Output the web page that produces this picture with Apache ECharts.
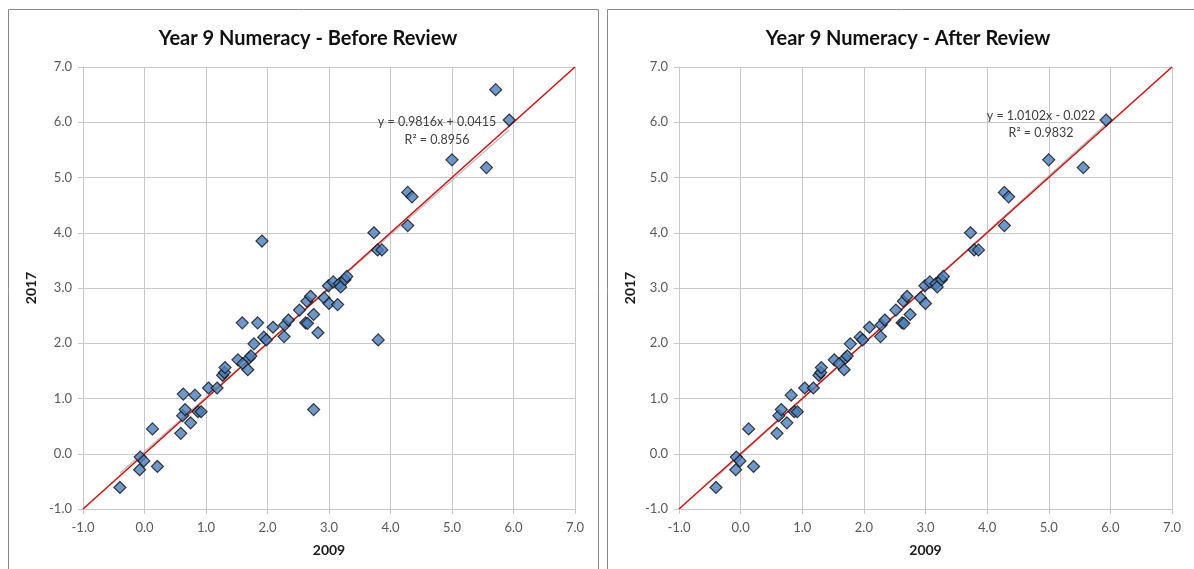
<!DOCTYPE html>
<html>
<head>
<meta charset="utf-8">
<script src="https://cdn.jsdelivr.net/npm/echarts@6/dist/echarts.min.js"></script>
<style>
html,body{margin:0;padding:0;background:#fff;}
#chart{width:1194px;height:569px;}
</style>
</head>
<body>
<div id="chart"></div>
<script>
// ---- data ----
const tickLabels = ['-1.0','0.0','1.0','2.0','3.0','4.0','5.0','6.0','7.0'];
const titles = ['Year 9 Numeracy - Before Review', 'Year 9 Numeracy - After Review'];
const xName = '2009';
const yName = '2017';

const beforeX = [-0.40,-0.08,-0.07,-0.01,0.13,0.21,0.59,0.62,0.63,0.66,0.75,0.82,0.87,0.92,1.04,1.18,1.27,1.30,1.31,1.52,1.59,1.60,1.68,1.70,1.73,1.78,1.84,1.91,1.94,1.98,2.09,2.27,2.28,2.34,2.52,2.62,2.65,2.64,2.70,2.75,2.75,2.82,2.92,2.99,3.00,3.07,3.14,3.17,3.19,3.26,3.29,3.73,3.79,3.86,3.80,4.28,4.35,4.28,5.00,5.56,5.71,5.93];
const beforeY = [-0.61,-0.29,-0.06,-0.13,0.45,-0.23,0.37,0.69,1.08,0.80,0.56,1.06,0.76,0.76,1.19,1.19,1.42,1.47,1.56,1.70,2.37,1.63,1.52,1.73,1.77,1.99,2.37,3.85,2.11,2.06,2.29,2.12,2.33,2.42,2.60,2.37,2.36,2.76,2.85,2.52,0.80,2.19,2.82,3.04,2.72,3.11,2.70,3.08,3.02,3.15,3.21,4.00,3.69,3.69,2.06,4.73,4.65,4.13,5.32,5.18,6.59,6.04];

const afterX = [-0.40,-0.08,-0.07,-0.01,0.13,0.21,0.59,0.62,0.66,0.75,0.82,0.87,0.92,1.04,1.18,1.27,1.30,1.31,1.52,1.60,1.68,1.70,1.73,1.78,1.94,1.98,2.09,2.27,2.28,2.34,2.52,2.62,2.65,2.64,2.70,2.75,2.92,2.99,3.00,3.07,3.17,3.19,3.26,3.29,3.73,3.79,3.86,4.28,4.35,4.28,5.00,5.56,5.93];
const afterY = [-0.61,-0.29,-0.06,-0.13,0.45,-0.23,0.37,0.69,0.80,0.56,1.06,0.76,0.76,1.19,1.19,1.42,1.47,1.56,1.70,1.63,1.52,1.73,1.77,1.99,2.11,2.06,2.29,2.12,2.33,2.42,2.60,2.37,2.36,2.76,2.85,2.52,2.82,3.04,2.72,3.11,3.08,3.02,3.15,3.21,4.00,3.69,3.69,4.73,4.65,4.13,5.32,5.18,6.04];

// trendline equations as printed on the chart
const beforeTrend = {slope: 0.9816, intercept: 0.0415, eq: 'y = 0.9816x + 0.0415', r2: 'R\u00B2 = 0.8956'};
const afterTrend  = {slope: 1.0102, intercept: -0.022, eq: 'y = 1.0102x - 0.022',  r2: 'R\u00B2 = 0.9832'};
const identityLine = [[-1, -1], [7, 7]];

// ---- build ----
function pairs(xs, ys){ return xs.map((x,i)=>[x, ys[i]]); }
function trendData(xs, t){
  const lo = Math.min(...xs), hi = Math.max(...xs);
  return [[lo, t.slope*lo + t.intercept], [hi, t.slope*hi + t.intercept]];
}

const FONT = 'Lato, "Open Sans", sans-serif';
const gridColor = '#c8c8c8';
const labelColor = '#595959';

function xAxis(gi){
  return {
    type:'value', gridIndex:gi, min:-1, max:7, interval:1,
    name:xName, nameLocation:'middle', nameGap:34,
    nameTextStyle:{fontFamily:FONT, fontWeight:'bold', fontSize:14, color:'#1a1a1a'},
    axisLine:{show:true, onZero:false, lineStyle:{color:gridColor, width:1}},
    axisTick:{show:true, length:5, lineStyle:{color:gridColor}},
    axisLabel:{margin:12, fontFamily:FONT, fontSize:13, color:labelColor,
      formatter:(v)=>tickLabels[Math.round(v)+1]},
    splitLine:{show:true, lineStyle:{color:gridColor, width:1}}
  };
}
function yAxis(gi, gap){
  return {
    type:'value', gridIndex:gi, min:-1, max:7, interval:1,
    name:yName, nameLocation:'middle', nameGap:gap, nameRotate:90,
    nameTextStyle:{fontFamily:FONT, fontWeight:'bold', fontSize:14, color:'#1a1a1a'},
    axisLine:{show:true, onZero:false, lineStyle:{color:gridColor, width:1}},
    axisTick:{show:true, length:5, lineStyle:{color:gridColor}},
    axisLabel:{margin:11, fontFamily:FONT, fontSize:13, color:labelColor,
      formatter:(v)=>tickLabels[Math.round(v)+1]},
    splitLine:{show:true, lineStyle:{color:gridColor, width:1}}
  };
}
function panelSeries(gi, xs, ys, t){
  return [
    {type:'line', xAxisIndex:gi, yAxisIndex:gi, data:trendData(xs,t), symbol:'none',
     lineStyle:{color:'#bdbdbd', width:1.3}, silent:true, z:2},
    {type:'line', xAxisIndex:gi, yAxisIndex:gi, data:identityLine, symbol:'none',
     lineStyle:{color:'#cc1414', width:1.6}, silent:true, z:3},
    {type:'scatter', xAxisIndex:gi, yAxisIndex:gi, data:pairs(xs,ys), symbol:'diamond',
     symbolSize:12, itemStyle:{color:'#4a7ebb', borderColor:'#111', borderWidth:1.2}, z:4}
  ];
}

const chart = echarts.init(document.getElementById('chart'), null, {renderer:'canvas'});
chart.setOption({
  animation:false,
  backgroundColor:'#ffffff',
  title:[
    {text:titles[0], left:303, top:24, textAlign:'center',
     textStyle:{fontFamily:FONT, fontWeight:'bold', fontSize:20, color:'#111'}},
    {text:titles[1], left:903, top:24, textAlign:'center',
     textStyle:{fontFamily:FONT, fontWeight:'bold', fontSize:20, color:'#111'}}
  ],
  grid:[
    {left:83, top:67, width:492, height:442},
    {left:679, top:67, width:493, height:442}
  ],
  xAxis:[xAxis(0), xAxis(1)],
  yAxis:[yAxis(0,45), yAxis(1,42)],
  series:[...panelSeries(0, beforeX, beforeY, beforeTrend), ...panelSeries(1, afterX, afterY, afterTrend)],
  graphic:[
    {type:'rect', shape:{x:8.5, y:9.5, width:590, height:620}, style:{fill:'none', stroke:'#8a8a8a', lineWidth:1}, z:-1, silent:true},
    {type:'rect', shape:{x:607.5, y:9.5, width:620, height:620}, style:{fill:'none', stroke:'#8a8a8a', lineWidth:1}, z:-1, silent:true},
    {type:'text', x:437, y:122, style:{text:beforeTrend.eq, align:'center', verticalAlign:'middle', fontFamily:FONT, fontSize:12.5, fill:'#404040'}, z:10},
    {type:'text', x:437, y:140, style:{text:beforeTrend.r2, align:'center', verticalAlign:'middle', fontFamily:FONT, fontSize:12.5, fill:'#404040'}, z:10},
    {type:'text', x:1041, y:116, style:{text:afterTrend.eq, align:'center', verticalAlign:'middle', fontFamily:FONT, fontSize:12.5, fill:'#404040'}, z:10},
    {type:'text', x:1041, y:133, style:{text:afterTrend.r2, align:'center', verticalAlign:'middle', fontFamily:FONT, fontSize:12.5, fill:'#404040'}, z:10}
  ]
});
</script>
</body>
</html>
